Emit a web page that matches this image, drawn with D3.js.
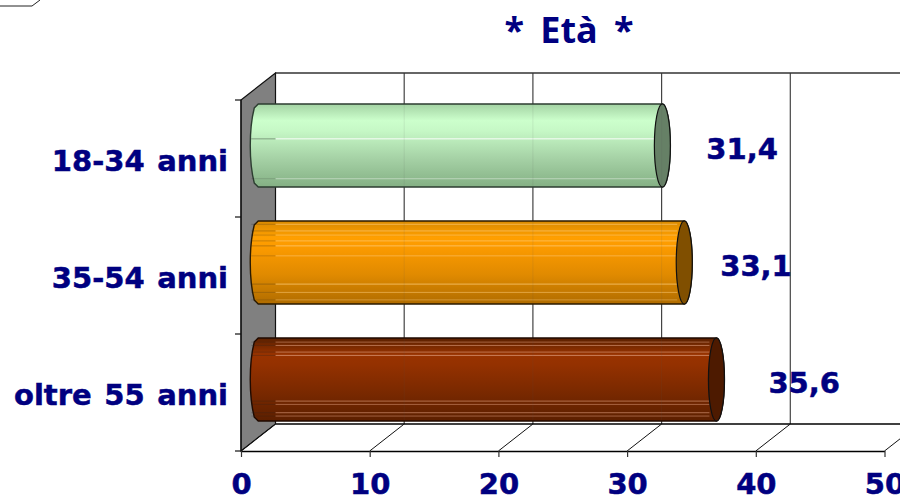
<!DOCTYPE html>
<html>
<head>
<meta charset="utf-8">
<style>html,body{margin:0;padding:0;background:#fff;overflow:hidden}svg{display:block}</style>
<script src="https://cdn.jsdelivr.net/npm/d3@7/dist/d3.min.js"></script>
</head>
<body>
<div id="c"></div>
<script>
const titleText = "* Età *";
const categories = ["18-34 anni", "35-54 anni", "oltre 55 anni"];
const values = [31.4, 33.1, 35.6];
const valueLabels = ["31,4", "33,1", "35,6"];
const xTicks = [0, 10, 20, 30, 40, 50];
const navy = "#000080";

const W = 900, H = 496;
const dx = 34.5, dy = 27;
const x = d3.scaleLinear().domain([0, 50]).range([241, 884.5]);
const y = d3.scaleBand().domain(categories).range([100, 451]).paddingInner(0.29).paddingOuter(0.145);
const fontLab = "'DejaVu Sans',Verdana,sans-serif";

const svg = d3.select("#c").append("svg").attr("width", W).attr("height", H).attr("viewBox", `0 0 ${W} ${H}`);
const defs = svg.append("defs");

const looks = [
  {stops: ["#a3d3a3", "#ccffcc", "#c6f8c6", "#a6d2a6", "#84b084"], cap: "#668066", edge: "#2c3d30", stripe: "#ffffff",
   lines: [0.42, 0.90], op: [0.95, 0.4]},
  {stops: ["#d98a00", "#ff9f00", "#fb9a00", "#e08a00", "#b06c00"], cap: "#804f00", edge: "#2a1a00", stripe: "#ffcf80",
   lines: [0.04, 0.12, 0.17, 0.24, 0.30, 0.42, 0.76, 0.86, 0.95], op: [.6, .6, .5, .6, .7, .5, .7, .5, .4]},
  {stops: ["#5a2000", "#993300", "#943100", "#7a2900", "#5c1f00"], cap: "#4d1a00", edge: "#1f0a00", stripe: "#e0a080",
   lines: [0.05, 0.09, 0.17, 0.21, 0.76, 0.80, 0.90, 0.94], op: [.5, .6, .6, .7, .6, .5, .6, .5]}
];
looks.forEach((l, i) => {
  const g = defs.append("linearGradient").attr("id", "g" + i).attr("x1", 0).attr("x2", 0).attr("y1", 0).attr("y2", 1);
  [0, 0.2, 0.32, 0.65, 1].forEach((o, k) => g.append("stop").attr("offset", o).attr("stop-color", l.stops[k]));
});

// corner fragment of a clipped frame
svg.append("path").attr("d", "M0,6H32L40,0").attr("fill", "none").attr("stroke", "#222").attr("stroke-width", 1);

// walls
const back = svg.append("g").attr("transform", `translate(${dx},${-dy})`);
svg.append("path").attr("fill", "#808080").attr("stroke", "#111").attr("stroke-width", 1.2)
  .attr("d", `M${x(0)},100L${x(0) + dx},${100 - dy}V${451 - dy}L${x(0)},451Z`);

const gridLine = (sel, o) => sel.selectAll("line").data(xTicks.filter(d => d > 0)).join("line")
  .attr("x1", d => x(d)).attr("x2", d => x(d)).attr("y1", 100).attr("y2", 451)
  .attr("stroke", "#444").attr("stroke-width", 1.2).attr("opacity", o);
gridLine(back.append("g"), 1);
back.append("line").attr("x1", x(0)).attr("x2", W).attr("y1", 100).attr("y2", 100).attr("stroke", "#333").attr("stroke-width", 1.4);
back.append("line").attr("x1", x(0)).attr("x2", W).attr("y1", 451).attr("y2", 451).attr("stroke", "#000").attr("stroke-width", 1.5);

// floor diagonals
svg.append("g").selectAll("line").data(xTicks).join("line")
  .attr("x1", d => x(d)).attr("y1", 451).attr("x2", d => x(d) + dx).attr("y2", 451 - dy)
  .attr("stroke", "#111").attr("stroke-width", 1);

// cylinders
const rx = 8;
const bars = svg.append("g").selectAll("g").data(categories).join("g");
bars.each(function (c, i) {
  const g = d3.select(this), l = looks[i];
  const top = y(c) - dy / 2 + 0.5, h = y.bandwidth(), bot = top + h, mid = top + h / 2;
  const x0 = x(0) + dx / 2, x1 = x(values[i]) + dx / 2;
  const left = x0 - 8;
  g.append("path")
    .attr("d", `M${x0},${top}H${x1}A${rx},${h / 2} 0 0 1 ${x1},${bot}H${x0}L${left + 4},${bot - 4}C${left + 1},${bot - 16} ${left},${mid + 14} ${left},${mid}C${left},${mid - 14} ${left + 1},${top + 16} ${left + 4},${top + 4}Z`)
    .attr("fill", `url(#g${i})`).attr("stroke", l.edge).attr("stroke-width", 1.4);
  l.lines.forEach((f, k) => {
    g.append("line").attr("x1", x(0) + dx).attr("x2", x1 - rx + 1).attr("y1", top + f * h).attr("y2", top + f * h)
      .attr("stroke", l.stripe).attr("stroke-width", 1).attr("opacity", l.op[k]);
    g.append("line").attr("x1", left + 1).attr("x2", x(0) + dx).attr("y1", top + f * h).attr("y2", top + f * h)
      .attr("stroke", "#222").attr("stroke-width", 1).attr("opacity", l.op[k] * 0.4);
  });
  g.append("ellipse").attr("cx", x1).attr("cy", mid).attr("rx", rx).attr("ry", h / 2)
    .attr("fill", l.cap).attr("stroke", "#111").attr("stroke-width", 1.2);
});
// grid faintly showing through the cylinders
const through = svg.append("g").attr("transform", `translate(${dx},${-dy})`);
categories.forEach((c, i) => {
  through.selectAll(null).data(xTicks.filter(d => d > 0 && d <= values[i] - 1)).join("line")
    .attr("x1", d => x(d)).attr("x2", d => x(d))
    .attr("y1", y(c) + 13.5).attr("y2", y(c) + y.bandwidth() + 13.5)
    .attr("stroke", "#555").attr("opacity", 0.1);
});

// front axes
const axisX = svg.append("g").attr("transform", "translate(0,451)")
  .call(d3.axisBottom(x).tickValues(xTicks).tickSize(6).tickSizeOuter(0).tickPadding(16));
axisX.select(".domain").attr("stroke", "#000").attr("stroke-width", 1.5);
axisX.selectAll("line").attr("stroke", "#333").attr("stroke-width", 1.2);
const heavy = sel => sel.attr("font-family", fontLab).attr("font-weight", "bold").attr("font-size", 29)
  .attr("fill", navy).attr("stroke", navy).attr("stroke-width", 0.5);
axisX.selectAll("text").call(heavy).attr("dy", 0).attr("y", 43);

const frontTicks = svg.append("g");
const steps = [100, ...categories.map(c => y(c) + y.bandwidth() + y.step() * y.paddingInner() / 2)];
frontTicks.selectAll("line").data(steps).join("line")
  .attr("x1", x(0) - 6).attr("x2", x(0)).attr("y1", d => d).attr("y2", d => d).attr("stroke", "#111").attr("stroke-width", 1.2);
svg.append("line").attr("x1", x(0)).attr("x2", x(0)).attr("y1", 100).attr("y2", 451).attr("stroke", "#111").attr("stroke-width", 1.2);

// category labels
svg.append("g").selectAll("text").data(categories).join("text")
  .attr("x", 228).attr("y", c => y(c) + y.bandwidth() / 2 + 12.5)
  .attr("text-anchor", "end").call(heavy).attr("word-spacing", 2.5)
  .text(c => c);

// value labels
const labelGap = [36, 28, 44];
svg.append("g").selectAll("text").data(valueLabels).join("text")
  .attr("x", (d, i) => x(values[i]) + dx / 2 + rx + labelGap[i])
  .attr("y", (d, i) => y(categories[i]) + y.bandwidth() / 2 + 0.5)
  .call(heavy)
  .text(d => d);

// title
svg.append("text").attr("x", 569).attr("y", 43).attr("text-anchor", "middle")
  .attr("font-family", "'Noto Sans',sans-serif").attr("font-weight", "bold").attr("font-size", 36).attr("fill", navy)
  .attr("word-spacing", 7).text(titleText);
</script>
</body>
</html>
